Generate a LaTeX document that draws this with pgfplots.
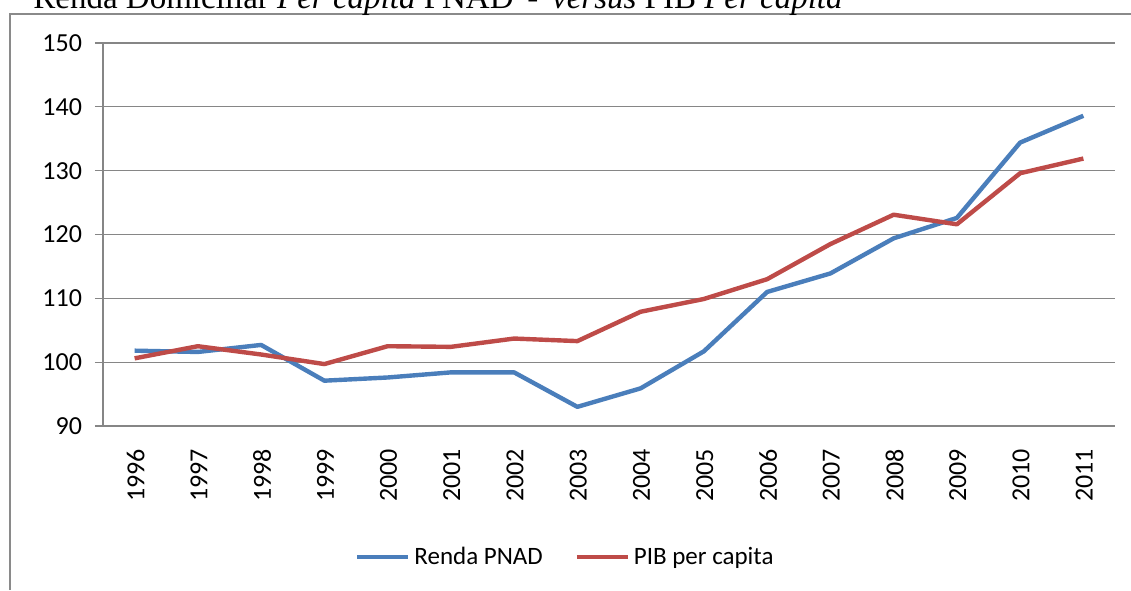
\documentclass[border=0pt]{standalone}
\usepackage{pgfplots}
\pgfplotsset{compat=1.18}
\usepackage{fontspec}
\setmainfont{Carlito}
\newfontfamily\titlefont{Liberation Serif}
\definecolor{rendablue}{HTML}{4A7EBB}
\definecolor{pibred}{HTML}{BE4B48}
\definecolor{gridgray}{HTML}{868686}
\definecolor{framegray}{HTML}{8A8A8A}

\begin{document}
\begin{tikzpicture}
% page = 1131 x 590 px at 0.5pt per px
\useasboundingbox (0,0) rectangle (565.5pt,295pt);
\draw[framegray, line width=1pt] (4.75pt,0) -- (4.75pt,288pt) -- (565.5pt,288pt);
\node[anchor=base west, inner sep=0pt, font=\titlefont\fontsize{16.5}{18}\selectfont]
  at (16.5pt,290.5pt) {Renda Domiciliar \textit{Per capita} PNAD \,-\, \textit{versus} PIB \textit{Per capita}};
\begin{axis}[
    at={(51.5pt,82pt)}, anchor=south west,
    scale only axis,
    width=506pt, height=191.5pt,
    xmin=-0.5, xmax=15.5,
    ymin=90, ymax=150,
    ytick={90,100,...,150},
    xtick={0,...,15},
    xticklabels={1996,1997,1998,1999,2000,2001,2002,2003,2004,2005,2006,2007,2008,2009,2010,2011},
    minor xtick={-0.5,0.5,...,15.5},
    axis x line*=bottom, axis y line*=left,
    axis line style={gridgray, line width=0.65pt, -},
    tick align=outside,
    major tick length=4pt, minor tick length=4pt,
    xtick style={draw=none},
    minor tick style={gridgray, line width=0.65pt},
    ytick style={gridgray, line width=0.65pt},
    ymajorgrids,
    major grid style={gridgray, line width=0.65pt},
    tick label style={font=\fontsize{13}{15}\selectfont},
    /pgf/number format/assume math mode=true,
    xticklabel style={rotate=90, anchor=east, xshift=-4pt, yshift=-0.5pt},
    yticklabel style={xshift=-3pt},
    legend style={at={(0.458,-0.342)}, anchor=center, draw=none,
        font=\fontsize{12.5}{15}\selectfont, legend columns=2,
        /tikz/every even column/.append style={column sep=14pt}},
    legend image code/.code={\draw[#1, line width=2pt] (0pt,0pt) -- (25.5pt,0pt);},
]
\addplot[rendablue, line width=2.2pt, line join=round] coordinates {
    (0,101.8) (1,101.6) (2,102.7) (3,97.1) (4,97.6) (5,98.4) (6,98.4) (7,93.0)
    (8,95.9) (9,101.7) (10,111.0) (11,113.9) (12,119.4) (13,122.6) (14,134.4) (15,138.6)
};
\addlegendentry{Renda PNAD}
\addplot[pibred, line width=2.2pt, line join=round] coordinates {
    (0,100.6) (1,102.5) (2,101.2) (3,99.7) (4,102.5) (5,102.4) (6,103.7) (7,103.3)
    (8,107.9) (9,109.9) (10,113.0) (11,118.5) (12,123.1) (13,121.6) (14,129.6) (15,131.9)
};
\addlegendentry{PIB per capita}
\end{axis}
\end{tikzpicture}
\end{document}
